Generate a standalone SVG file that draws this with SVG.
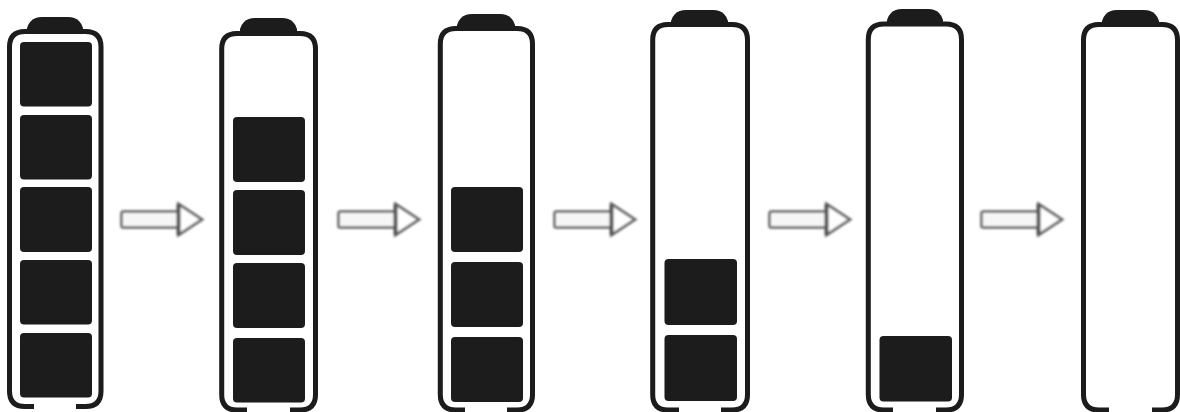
<svg xmlns="http://www.w3.org/2000/svg" width="1180" height="412" viewBox="0 0 1180 412">
<style>
.body{fill:none;stroke:#1a1a1a;stroke-width:5;stroke-linecap:butt}
.cap{fill:#1a1a1a}
.cell{fill:#1c1c1c}
.shaft{fill:#f6f6f6;stroke:#7c7c7c;stroke-width:3}
.head{fill:#fff;stroke:#707070;stroke-width:3;stroke-linejoin:miter}
.neck{fill:none;stroke:#555;stroke-width:4}
</style>
<defs>
<filter id="soft" x="-5%" y="-5%" width="110%" height="110%"><feGaussianBlur stdDeviation="0.6"/></filter>
<filter id="softer" x="-5%" y="-20%" width="110%" height="140%"><feGaussianBlur stdDeviation="1"/></filter>
</defs>
<rect width="1180" height="412" fill="#fff"/>
<g filter="url(#soft)">
<g id="battery-1">
<path class="cap" d="M27 33V28Q28 24 31 21Q35 17 42 17H68Q75 17 79 21Q82 24 83 28V33Z"/>
<path class="body" d="M34 406.500H25Q9.500 406.500 9.500 391V47Q9.500 31.500 25 31.500H85.500Q101 31.500 101 47V391Q101 406.500 85.500 406.500H76"/>
<rect class="cell" x="20" y="42" width="72" height="64.500" rx="4"/>
<rect class="cell" x="20" y="115" width="72" height="64.500" rx="4"/>
<rect class="cell" x="20" y="187" width="72" height="65" rx="4"/>
<rect class="cell" x="20" y="260" width="72" height="64.500" rx="4"/>
<rect class="cell" x="20" y="333" width="72" height="64.500" rx="4"/>
</g>
<g id="battery-2">
<path class="cap" d="M240 35V29Q241 25 244 22Q248 18 255 18H282Q289 18 293 22Q296 25 297 29V35Z"/>
<path class="body" d="M247 410H237Q221.700 410 221.700 394.500V49Q221.700 33.500 237 33.500H300Q315.500 33.500 315.500 49V394.500Q315.500 410 300 410H290"/>
<rect class="cell" x="233" y="117" width="72" height="65" rx="4"/>
<rect class="cell" x="233" y="190" width="72" height="65" rx="4"/>
<rect class="cell" x="233" y="263" width="72" height="65" rx="4"/>
<rect class="cell" x="233" y="338" width="72" height="64.500" rx="4"/>
</g>
<g id="battery-3">
<path class="cap" d="M457 30V25Q458 21 461 18Q465 14 472 14H500Q507 14 511 18Q514 21 515 25V30Z"/>
<path class="body" d="M465 410H456Q440.300 410 440.300 394.500V44Q440.300 28.500 456 28.500H517Q532.500 28.500 532.500 44V394.500Q532.500 410 517 410H507"/>
<rect class="cell" x="451" y="187" width="72" height="65" rx="4"/>
<rect class="cell" x="451" y="262" width="72" height="65" rx="4"/>
<rect class="cell" x="451" y="337" width="72" height="65" rx="4"/>
</g>
<g id="battery-4">
<path class="cap" d="M671 26V21Q672 17 675 14Q679 10 686 10H713Q720 10 724 14Q727 17 728 21V26Z"/>
<path class="body" d="M679 410H668Q652.700 410 652.700 394.500V40Q652.700 24.500 668 24.500H732Q747.500 24.500 747.500 40V394.500Q747.500 410 732 410H721"/>
<rect class="cell" x="664.500" y="259" width="72.500" height="66" rx="4"/>
<rect class="cell" x="664.500" y="335" width="72.500" height="66" rx="4"/>
</g>
<g id="battery-5">
<path class="cap" d="M887 26V20Q888 16 891 13Q895 9 902 9H928Q935 9 939 13Q942 16 943 20V26Z"/>
<path class="body" d="M893 410H884Q868.300 410 868.300 394.500V39.500Q868.300 24 884 24H946Q961.500 24 961.500 39.500V394.500Q961.500 410 946 410H936"/>
<rect class="cell" x="879.500" y="336" width="72.500" height="65.500" rx="4"/>
</g>
<g id="battery-6">
<path class="cap" d="M1102 26V21Q1103 17 1106 14Q1110 10 1117 10H1144Q1151 10 1155 14Q1158 17 1159 21V26Z"/>
<path class="body" d="M1109 410H1099Q1083.500 410 1083.500 394.500V40Q1083.500 24.500 1099 24.500H1162Q1177.500 24.500 1177.500 40V394.500Q1177.500 410 1162 410H1152"/>
</g>
</g>
<g id="connectors" filter="url(#softer)">
<g id="arrow-1"><rect class="shaft" x="121.500" y="211.500" width="57" height="16" rx="2"/><path class="head" d="M178.500 204L202 219.500L178.500 235Z"/><path class="neck" d="M178.500 204V235"/></g>
<g id="arrow-2"><rect class="shaft" x="338.500" y="211.500" width="57" height="16" rx="2"/><path class="head" d="M395.500 204L419 219.500L395.500 235Z"/><path class="neck" d="M395.500 204V235"/></g>
<g id="arrow-3"><rect class="shaft" x="554.500" y="211.500" width="57" height="16" rx="2"/><path class="head" d="M611.500 204L635 219.500L611.500 235Z"/><path class="neck" d="M611.500 204V235"/></g>
<g id="arrow-4"><rect class="shaft" x="769.500" y="211.500" width="57" height="16" rx="2"/><path class="head" d="M826.500 204L850 219.500L826.500 235Z"/><path class="neck" d="M826.500 204V235"/></g>
<g id="arrow-5"><rect class="shaft" x="981.500" y="211.500" width="57" height="16" rx="2"/><path class="head" d="M1038.500 204L1062 219.500L1038.500 235Z"/><path class="neck" d="M1038.500 204V235"/></g>
</g>
</svg>
